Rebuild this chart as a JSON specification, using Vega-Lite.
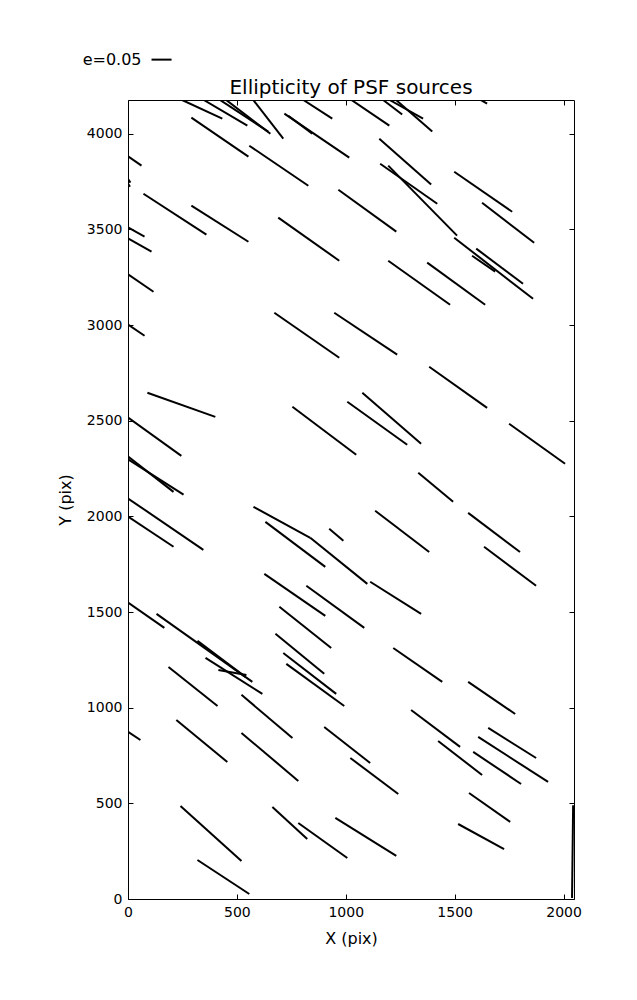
{
  "$schema": "https://vega.github.io/schema/vega-lite/v6.json",
  "autosize": {"type": "none"},
  "padding": {"left": 128, "top": 100, "right": 63, "bottom": 101},
  "width": 446,
  "height": 799,
  "title": {"text": "Ellipticity of PSF sources", "fontSize": 20, "fontWeight": "normal", "font": "DejaVu Sans", "color": "black", "anchor": "middle", "frame": "group", "offset": -46},
  "datasets": {
    "segs": [
      {"x": 241, "y": 4180, "x2": 433, "y2": 4079},
      {"x": 342, "y": 4180, "x2": 548, "y2": 4042},
      {"x": 424, "y": 4175, "x2": 644, "y2": 4011},
      {"x": 452, "y": 4175, "x2": 654, "y2": 4000},
      {"x": 576, "y": 4175, "x2": 713, "y2": 3974},
      {"x": 718, "y": 4105, "x2": 1016, "y2": 3875},
      {"x": 736, "y": 4094, "x2": 846, "y2": 4000},
      {"x": 800, "y": 4180, "x2": 938, "y2": 4079},
      {"x": 1021, "y": 4180, "x2": 1200, "y2": 4042},
      {"x": 1167, "y": 4180, "x2": 1259, "y2": 4100},
      {"x": 1195, "y": 4180, "x2": 1355, "y2": 4079},
      {"x": 1227, "y": 4180, "x2": 1397, "y2": 4011},
      {"x": 1617, "y": 4178, "x2": 1649, "y2": 4157},
      {"x": 291, "y": 4084, "x2": 553, "y2": 3880},
      {"x": 557, "y": 3937, "x2": 828, "y2": 3728},
      {"x": 2, "y": 3880, "x2": 62, "y2": 3833},
      {"x": 2, "y": 3760, "x2": 11, "y2": 3744},
      {"x": 2, "y": 3736, "x2": 9, "y2": 3722},
      {"x": 71, "y": 3686, "x2": 360, "y2": 3472},
      {"x": 291, "y": 3624, "x2": 553, "y2": 3435},
      {"x": 2, "y": 3509, "x2": 76, "y2": 3462},
      {"x": 2, "y": 3451, "x2": 108, "y2": 3383},
      {"x": 690, "y": 3561, "x2": 970, "y2": 3336},
      {"x": 966, "y": 3707, "x2": 1232, "y2": 3488},
      {"x": 2, "y": 3263, "x2": 117, "y2": 3174},
      {"x": 1154, "y": 3974, "x2": 1392, "y2": 3734},
      {"x": 1158, "y": 3843, "x2": 1420, "y2": 3634},
      {"x": 1195, "y": 3833, "x2": 1511, "y2": 3467},
      {"x": 1498, "y": 3801, "x2": 1764, "y2": 3592},
      {"x": 1626, "y": 3639, "x2": 1865, "y2": 3430},
      {"x": 1498, "y": 3456, "x2": 1860, "y2": 3137},
      {"x": 1599, "y": 3399, "x2": 1814, "y2": 3216},
      {"x": 1580, "y": 3362, "x2": 1686, "y2": 3279},
      {"x": 1195, "y": 3336, "x2": 1479, "y2": 3106},
      {"x": 1374, "y": 3326, "x2": 1640, "y2": 3106},
      {"x": 2, "y": 3001, "x2": 76, "y2": 2944},
      {"x": 672, "y": 3064, "x2": 970, "y2": 2829},
      {"x": 947, "y": 3064, "x2": 1236, "y2": 2845},
      {"x": 89, "y": 2646, "x2": 401, "y2": 2520},
      {"x": 2, "y": 2515, "x2": 245, "y2": 2316},
      {"x": 2, "y": 2311, "x2": 209, "y2": 2128},
      {"x": 2, "y": 2296, "x2": 255, "y2": 2113},
      {"x": 755, "y": 2573, "x2": 1048, "y2": 2322},
      {"x": 1007, "y": 2599, "x2": 1282, "y2": 2374},
      {"x": 1076, "y": 2646, "x2": 1346, "y2": 2379},
      {"x": 1383, "y": 2782, "x2": 1649, "y2": 2567},
      {"x": 1750, "y": 2484, "x2": 2007, "y2": 2275},
      {"x": 1333, "y": 2228, "x2": 1493, "y2": 2076},
      {"x": 2, "y": 2092, "x2": 346, "y2": 1825},
      {"x": 2, "y": 1997, "x2": 209, "y2": 1841},
      {"x": 576, "y": 2050, "x2": 837, "y2": 1888},
      {"x": 837, "y": 1888, "x2": 1099, "y2": 1647},
      {"x": 631, "y": 1971, "x2": 906, "y2": 1736},
      {"x": 924, "y": 1935, "x2": 989, "y2": 1872},
      {"x": 626, "y": 1699, "x2": 906, "y2": 1480},
      {"x": 819, "y": 1637, "x2": 1085, "y2": 1417},
      {"x": 1135, "y": 2029, "x2": 1383, "y2": 1814},
      {"x": 1562, "y": 2018, "x2": 1800, "y2": 1814},
      {"x": 1635, "y": 1841, "x2": 1874, "y2": 1637},
      {"x": 1112, "y": 1658, "x2": 1346, "y2": 1490},
      {"x": 2, "y": 1548, "x2": 167, "y2": 1417},
      {"x": 131, "y": 1490, "x2": 571, "y2": 1135},
      {"x": 356, "y": 1260, "x2": 617, "y2": 1072},
      {"x": 415, "y": 1197, "x2": 544, "y2": 1171},
      {"x": 319, "y": 1349, "x2": 539, "y2": 1161},
      {"x": 186, "y": 1213, "x2": 411, "y2": 1009},
      {"x": 521, "y": 1067, "x2": 755, "y2": 842},
      {"x": 677, "y": 1386, "x2": 901, "y2": 1177},
      {"x": 695, "y": 1527, "x2": 933, "y2": 1312},
      {"x": 713, "y": 1286, "x2": 956, "y2": 1072},
      {"x": 727, "y": 1229, "x2": 993, "y2": 1009},
      {"x": 1218, "y": 1312, "x2": 1443, "y2": 1135},
      {"x": 1562, "y": 1135, "x2": 1778, "y2": 967},
      {"x": 2, "y": 873, "x2": 57, "y2": 831},
      {"x": 222, "y": 936, "x2": 456, "y2": 716},
      {"x": 521, "y": 868, "x2": 782, "y2": 617},
      {"x": 901, "y": 899, "x2": 1112, "y2": 711},
      {"x": 1021, "y": 737, "x2": 1241, "y2": 549},
      {"x": 241, "y": 486, "x2": 521, "y2": 199},
      {"x": 319, "y": 204, "x2": 557, "y2": 26},
      {"x": 663, "y": 481, "x2": 823, "y2": 314},
      {"x": 782, "y": 397, "x2": 1007, "y2": 214},
      {"x": 952, "y": 424, "x2": 1232, "y2": 225},
      {"x": 1300, "y": 988, "x2": 1525, "y2": 795},
      {"x": 1424, "y": 826, "x2": 1626, "y2": 648},
      {"x": 1654, "y": 894, "x2": 1874, "y2": 737},
      {"x": 1608, "y": 847, "x2": 1929, "y2": 612},
      {"x": 1585, "y": 769, "x2": 1805, "y2": 601},
      {"x": 1566, "y": 554, "x2": 1755, "y2": 403},
      {"x": 1516, "y": 392, "x2": 1727, "y2": 261},
      {"x": 2044, "y": 490, "x2": 2039, "y2": 5}
    ],
    "legend": [
      {"x": 108, "x2": 200, "y": 4387, "label": "e=0.05", "lx": 62}
    ]
  },
  "resolve": {"axis": {"x": "independent", "y": "independent"}},
  "layer": [
    {
      "data": {"name": "segs"},
      "mark": {"type": "rule", "color": "black", "strokeWidth": 2, "clip": true},
      "encoding": {
        "x": {"field": "x", "type": "quantitative", "scale": {"domain": [0, 2048], "nice": false, "zero": false},
              "axis": {"orient": "bottom", "title": "X (pix)", "values": [0, 500, 1000, 1500, 2000], "format": "d"}},
        "x2": {"field": "x2"},
        "y": {"field": "y", "type": "quantitative", "scale": {"domain": [0, 4176], "nice": false, "zero": false},
              "axis": {"orient": "left", "title": "Y (pix)", "values": [0, 500, 1000, 1500, 2000, 2500, 3000, 3500, 4000], "format": "d"}},
        "y2": {"field": "y2"}
      }
    },
    {
      "data": {"name": "segs"},
      "mark": {"type": "point", "opacity": 0},
      "encoding": {
        "x": {"field": "x", "type": "quantitative",
              "axis": {"orient": "top", "title": null, "labels": false, "values": [0, 500, 1000, 1500, 2000]}},
        "y": {"field": "y", "type": "quantitative",
              "axis": {"orient": "right", "title": null, "labels": false, "values": [0, 500, 1000, 1500, 2000, 2500, 3000, 3500, 4000]}}
      }
    },
    {
      "data": {"name": "legend"},
      "mark": {"type": "rule", "color": "black", "strokeWidth": 2},
      "encoding": {
        "x": {"field": "x", "type": "quantitative", "axis": null},
        "x2": {"field": "x2"},
        "y": {"field": "y", "type": "quantitative", "axis": null}
      }
    },
    {
      "data": {"name": "legend"},
      "mark": {"type": "text", "align": "right", "baseline": "middle", "fontSize": 16, "font": "DejaVu Sans", "color": "black"},
      "encoding": {
        "x": {"field": "lx", "type": "quantitative", "axis": null},
        "y": {"field": "y", "type": "quantitative", "axis": null},
        "text": {"field": "label"}
      }
    }
  ],
  "config": {
    "font": "DejaVu Sans",
    "view": {"stroke": "black", "strokeWidth": 1},
    "axis": {
      "domain": false,
      "grid": false,
      "tickColor": "black",
      "tickSize": -5,
      "tickWidth": 1,
      "labelFont": "DejaVu Sans",
      "labelFontSize": 14,
      "labelColor": "black",
      "labelPadding": 11,
      "labelFlush": false,
      "labelOverlap": false,
      "titleFont": "DejaVu Sans",
      "titleFontSize": 16,
      "titleFontWeight": "normal",
      "titleColor": "black"
    },
    "axisX": {"titlePadding": 11},
    "axisY": {"titlePadding": 13}
  }
}
